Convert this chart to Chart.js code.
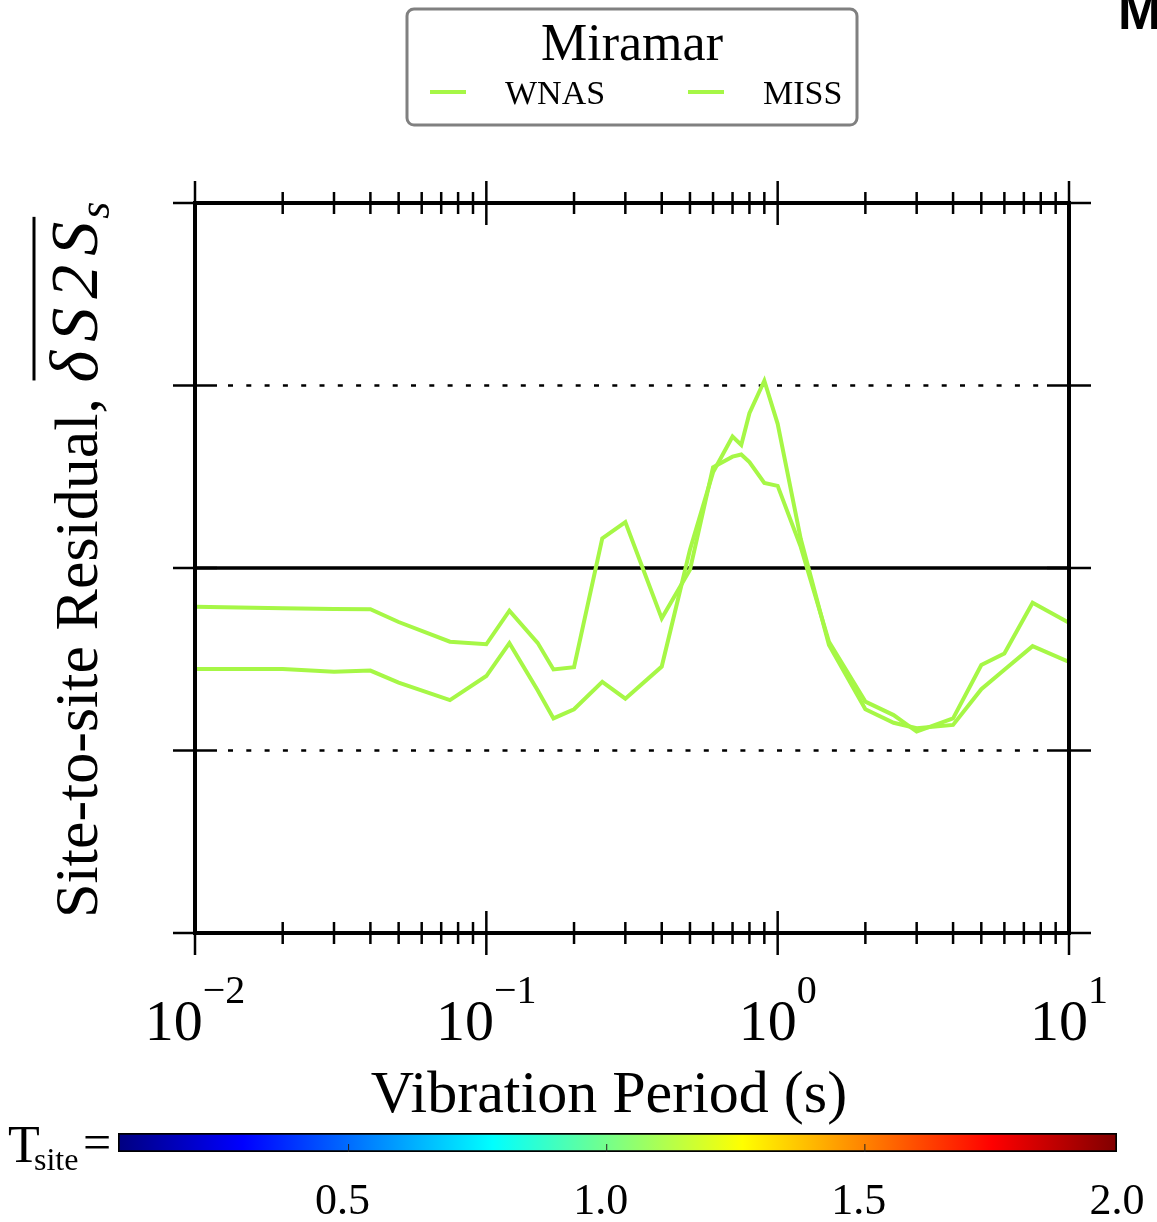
<!DOCTYPE html>
<html>
<head>
<meta charset="utf-8">
<script src="https://cdn.jsdelivr.net/npm/chart.js@4.4.1/dist/chart.umd.min.js"></script>
<style>
	body { margin: 0; background: #fff; }
	#wrap { position: relative; width: 1157px; height: 1222px; }
	canvas { position: absolute; left: 0; }
</style>
</head>
<body>
<div id="wrap">
	<canvas id="residualChart" width="1157" height="1222" style="top:0"></canvas>
	<canvas id="colorbarChart" width="1157" height="122" style="top:1100px"></canvas>
</div>
<script>
// vibration periods (s)
const periods = [0.01, 0.02, 0.03, 0.04, 0.05, 0.075, 0.1, 0.12, 0.15, 0.17, 0.2, 0.25, 0.3, 0.4, 0.5,
	0.6, 0.7, 0.75, 0.8, 0.9, 1.0, 1.2, 1.5, 2.0, 2.5, 3.0, 4.0, 5.0, 6.0, 7.5, 10.0];
const wnasResidual = [-0.106, -0.110, -0.112, -0.113, -0.148, -0.202, -0.209, -0.117, -0.205, -0.278, -0.272, 0.081, 0.126, -0.138, -0.005,
	0.276, 0.305, 0.311, 0.290, 0.233, 0.225, 0.058, -0.202, -0.366, -0.403, -0.448, -0.412, -0.266, -0.234, -0.095, -0.150];
const missResidual = [-0.277, -0.277, -0.284, -0.281, -0.314, -0.362, -0.296, -0.206, -0.335, -0.412, -0.387, -0.312, -0.358, -0.270, 0.050,
	0.262, 0.360, 0.337, 0.424, 0.513, 0.395, 0.080, -0.211, -0.387, -0.424, -0.439, -0.430, -0.332, -0.279, -0.214, -0.257];
const seriesLabels = ['WNAS', 'MISS'];
const siteName = 'Miramar';

// tick labels
const xDecades = [0.01, 0.1, 1, 10];
const xExponents = ['\u22122', '\u22121', '0', '1'];
const yTicks = [-1, -0.5, 0, 0.5, 1];
const cbTicks = [0.5, 1.0, 1.5, 2.0];
const cbTickLabels = ['0.5', '1.0', '1.5', '2.0'];
const cbRange = [0.065, 2.0];

const lineColor = 'rgb(166,247,70)';
const serif = '"Liberation Serif", "Times New Roman", serif';

function seg(ctx, x1, y1, x2, y2) {
	ctx.beginPath();
	ctx.moveTo(x1, y1);
	ctx.lineTo(x2, y2);
	ctx.stroke();
}

const axesDecor = {
	id: 'axesDecor',
	beforeDatasetsDraw(chart) {
		const ctx = chart.ctx;
		const a = chart.chartArea;
		const y = chart.scales.y;
		ctx.save();
		ctx.strokeStyle = '#000';
		ctx.lineWidth = 2.5;
		ctx.setLineDash([5, 13.3]);
		[-0.5, 0.5].forEach(function(v) {
			const py = y.getPixelForValue(v);
			seg(ctx, a.left + 33, py, a.right - 22, py);
		});
		ctx.setLineDash([]);
		ctx.lineWidth = 3.5;
		const z = y.getPixelForValue(0);
		seg(ctx, a.left, z, a.right, z);
		ctx.restore();
	},
	afterDatasetsDraw(chart) {
		const ctx = chart.ctx;
		const a = chart.chartArea;
		const x = chart.scales.x;
		const y = chart.scales.y;
		ctx.save();
		ctx.strokeStyle = '#000';
		ctx.lineWidth = 4;
		ctx.strokeRect(a.left, a.top, a.right - a.left, a.bottom - a.top);

		// x ticks, crossing both frame lines
		ctx.lineWidth = 2.5;
		xDecades.forEach(function(d, i) {
			const px = x.getPixelForValue(d);
			seg(ctx, px, a.top - 22, px, a.top + 22);
			seg(ctx, px, a.bottom - 22, px, a.bottom + 22);
			if (i < xDecades.length - 1) {
				for (let m = 2; m <= 9; m++) {
					const mx = x.getPixelForValue(d * m);
					seg(ctx, mx, a.top - 11, mx, a.top + 11);
					seg(ctx, mx, a.bottom - 11, mx, a.bottom + 11);
				}
			}
		});
		// y ticks
		yTicks.forEach(function(v) {
			const py = y.getPixelForValue(v);
			seg(ctx, a.left - 22, py, a.left + 22, py);
			seg(ctx, a.right - 22, py, a.right + 22, py);
		});

		// x tick labels 10^n
		ctx.fillStyle = '#000';
		ctx.textBaseline = 'alphabetic';
		ctx.textAlign = 'left';
		xDecades.forEach(function(d, i) {
			const px = x.getPixelForValue(d);
			ctx.font = '58px ' + serif;
			const w1 = ctx.measureText('10').width;
			ctx.font = '40px ' + serif;
			const w2 = ctx.measureText(xExponents[i]).width;
			const left = px - (w1 + w2) / 2;
			ctx.font = '58px ' + serif;
			ctx.fillText('10', left, 1040);
			ctx.font = '40px ' + serif;
			ctx.fillText(xExponents[i], left + w1, 1003);
		});

		// axis titles
		ctx.font = '60px ' + serif;
		ctx.textAlign = 'center';
		ctx.fillText('Vibration Period (s)', 609, 1112);

		ctx.save();
		ctx.translate(97, 918);
		ctx.rotate(-Math.PI / 2);
		ctx.textAlign = 'left';
		ctx.font = '62px ' + serif;
		const lead = 'Site-to-site Residual, ';
		ctx.fillText(lead, 0, 0);
		let off = ctx.measureText(lead).width;
		ctx.font = 'italic 68px ' + serif;
		ctx.letterSpacing = '9px';
		const sym = '\u03b4S2S';
		ctx.fillText(sym, off, 0);
		const symW = ctx.measureText(sym).width;
		ctx.letterSpacing = '0px';
		ctx.lineWidth = 3;
		seg(ctx, off + 2, -63, off + symW - 4, -63);
		ctx.font = 'italic 44px ' + serif;
		ctx.fillText('s', off + symW - 6, 12);
		ctx.restore();

		// legend box
		ctx.lineWidth = 3;
		ctx.strokeStyle = '#808080';
		ctx.beginPath();
		ctx.roundRect(407, 9, 450, 116, 7);
		ctx.stroke();
		ctx.fillStyle = '#000';
		ctx.textAlign = 'center';
		ctx.font = '52px ' + serif;
		ctx.fillText(siteName, 632, 60);
		const entryX = [430, 688];
		ctx.font = '34px ' + serif;
		ctx.textAlign = 'left';
		chart.data.datasets.forEach(function(ds, i) {
			ctx.strokeStyle = ds.borderColor;
			ctx.lineWidth = 4;
			seg(ctx, entryX[i], 92, entryX[i] + 36, 92);
			ctx.fillText(ds.label, entryX[i] + 75, 104);
		});

		// neighbouring panel title, cut by the edge
		ctx.font = 'bold 52px "Liberation Sans", sans-serif';
		ctx.fillText('M', 1118, 29);
		ctx.restore();
	}
};

new Chart(document.getElementById('residualChart').getContext('2d'), {
	type: 'line',
	data: {
		datasets: [wnasResidual, missResidual].map(function(vals, k) {
			return {
				label: seriesLabels[k],
				data: periods.map(function(t, i) { return { x: t, y: vals[i] }; }),
				borderColor: lineColor,
				borderWidth: 4,
				pointRadius: 0,
				tension: 0,
				fill: false
			};
		})
	},
	options: {
		responsive: false,
		animation: false,
		devicePixelRatio: 1,
		layout: { padding: { left: 195, right: 88, top: 203, bottom: 289 } },
		scales: {
			x: { type: 'logarithmic', min: 0.01, max: 10, display: false },
			y: { type: 'linear', min: -1, max: 1, display: false }
		},
		plugins: { legend: { display: false }, tooltip: { enabled: false } }
	},
	plugins: [axesDecor]
});

// jet colormap for the T_site colour bar
function jet(t) {
	const r = Math.min(Math.max(Math.min(4 * t - 1.5, -4 * t + 4.5), 0), 1);
	const g = Math.min(Math.max(Math.min(4 * t - 0.5, -4 * t + 3.5), 0), 1);
	const b = Math.min(Math.max(Math.min(4 * t + 0.5, -4 * t + 2.5), 0), 1);
	return 'rgb(' + Math.round(r * 255) + ',' + Math.round(g * 255) + ',' + Math.round(b * 255) + ')';
}

const colorbarDecor = {
	id: 'colorbarDecor',
	afterDatasetsDraw(chart) {
		const ctx = chart.ctx;
		const a = chart.chartArea;
		const x = chart.scales.x;
		ctx.save();
		ctx.strokeStyle = '#222';
		ctx.lineWidth = 1;
		ctx.fillStyle = '#000';
		ctx.textAlign = 'center';
		ctx.font = '44px ' + serif;
		cbTicks.forEach(function(v, i) {
			const px = x.getPixelForValue(v);
			if (i < cbTicks.length - 1) seg(ctx, px + 6, a.bottom, px + 6, a.bottom - 8);
			ctx.fillText(cbTickLabels[i], px, 114);
		});
		ctx.textAlign = 'left';
		ctx.font = '52px ' + serif;
		ctx.fillText('T', 8, 62);
		ctx.font = '32px ' + serif;
		ctx.fillText('site', 34, 70);
		ctx.font = '50px ' + serif;
		ctx.fillText('=', 83, 59);
		ctx.restore();
	}
};

new Chart(document.getElementById('colorbarChart').getContext('2d'), {
	type: 'bar',
	data: {
		labels: ['Tsite'],
		datasets: [{
			data: [cbRange],
			backgroundColor: function(c) {
				const area = c.chart.chartArea;
				if (!area) return '#000';
				const g = c.chart.ctx.createLinearGradient(area.left, 0, area.right, 0);
				for (let s = 0; s <= 40; s++) g.addColorStop(s / 40, jet(s / 40));
				return g;
			},
			borderColor: '#000',
			borderWidth: 2,
			borderSkipped: false,
			barPercentage: 1,
			categoryPercentage: 1
		}]
	},
	options: {
		indexAxis: 'y',
		responsive: false,
		animation: false,
		devicePixelRatio: 1,
		layout: { padding: { left: 118, right: 40, top: 33, bottom: 70 } },
		scales: {
			x: { type: 'linear', min: cbRange[0], max: cbRange[1], display: false },
			y: { display: false }
		},
		plugins: { legend: { display: false }, tooltip: { enabled: false } }
	},
	plugins: [colorbarDecor]
});
</script>
</body>
</html>
